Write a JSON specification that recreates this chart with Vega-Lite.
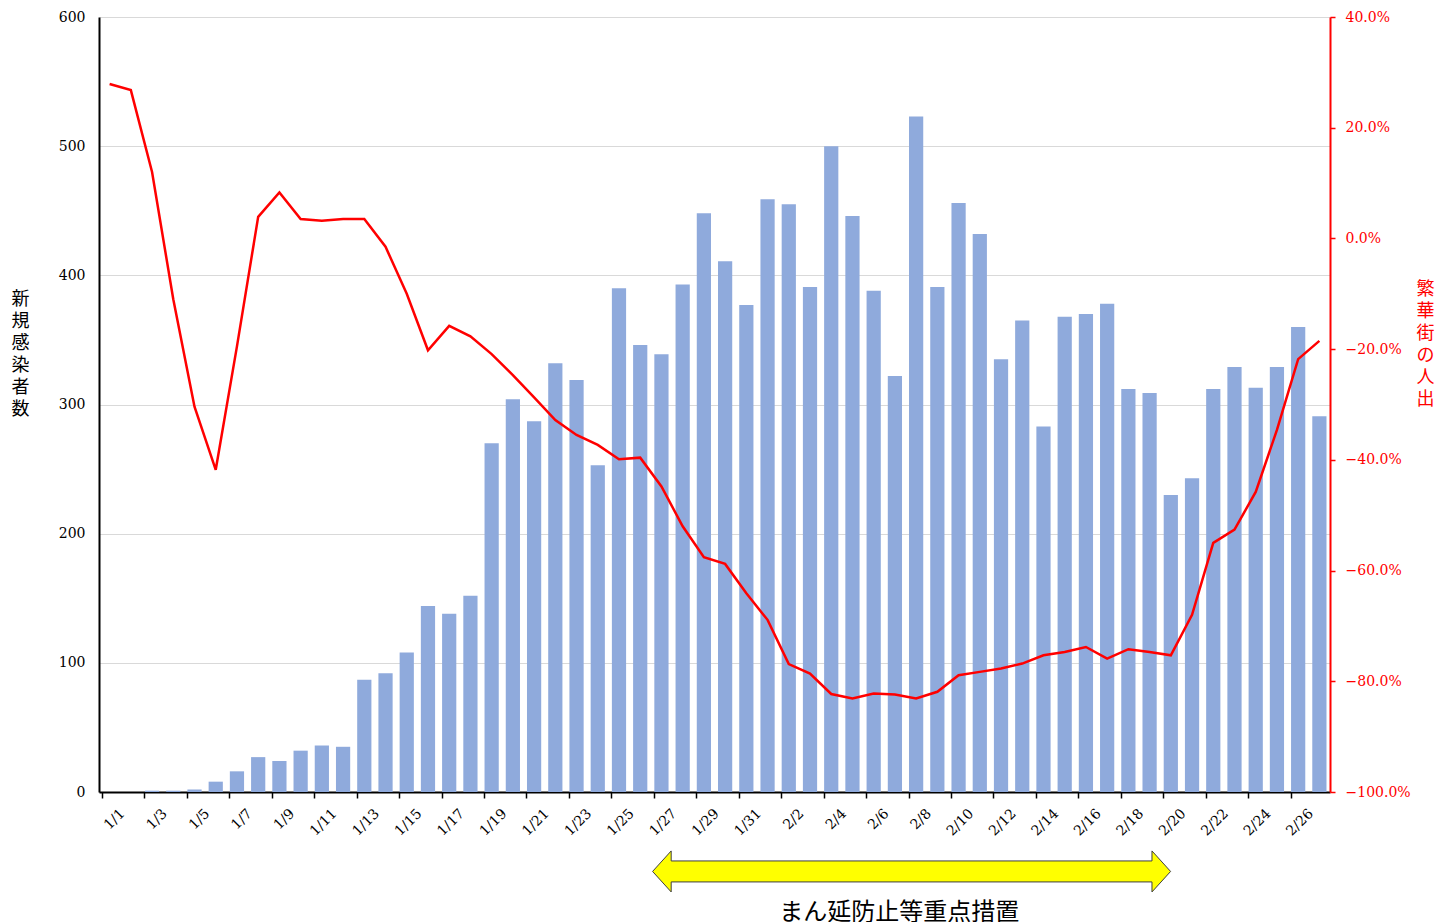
{
  "$schema": "https://vega.github.io/schema/vega-lite/v6.json",
  "width": 1231,
  "height": 775,
  "autosize": "none",
  "padding": {"left": 99, "top": 17, "right": 110, "bottom": 130},
  "background": "white",
  "config": {"view": {"stroke": null}},
  "data": {"values": [
    {"date":"1/1","cases":0,"people":0.279},
    {"date":"1/2","cases":0,"people":0.268},
    {"date":"1/3","cases":1,"people":0.120},
    {"date":"1/4","cases":1,"people":-0.110},
    {"date":"1/5","cases":2,"people":-0.304},
    {"date":"1/6","cases":8,"people":-0.418},
    {"date":"1/7","cases":16,"people":-0.195},
    {"date":"1/8","cases":27,"people":0.039},
    {"date":"1/9","cases":24,"people":0.083},
    {"date":"1/10","cases":32,"people":0.035},
    {"date":"1/11","cases":36,"people":0.032},
    {"date":"1/12","cases":35,"people":0.035},
    {"date":"1/13","cases":87,"people":0.035},
    {"date":"1/14","cases":92,"people":-0.015},
    {"date":"1/15","cases":108,"people":-0.100},
    {"date":"1/16","cases":144,"people":-0.202},
    {"date":"1/17","cases":138,"people":-0.158},
    {"date":"1/18","cases":152,"people":-0.177},
    {"date":"1/19","cases":270,"people":-0.209},
    {"date":"1/20","cases":304,"people":-0.247},
    {"date":"1/21","cases":287,"people":-0.287},
    {"date":"1/22","cases":332,"people":-0.328},
    {"date":"1/23","cases":319,"people":-0.355},
    {"date":"1/24","cases":253,"people":-0.373},
    {"date":"1/25","cases":390,"people":-0.399},
    {"date":"1/26","cases":346,"people":-0.396},
    {"date":"1/27","cases":339,"people":-0.448},
    {"date":"1/28","cases":393,"people":-0.520},
    {"date":"1/29","cases":448,"people":-0.576},
    {"date":"1/30","cases":411,"people":-0.588},
    {"date":"1/31","cases":377,"people":-0.641},
    {"date":"2/1","cases":459,"people":-0.689},
    {"date":"2/2","cases":455,"people":-0.769},
    {"date":"2/3","cases":391,"people":-0.786},
    {"date":"2/4","cases":500,"people":-0.823},
    {"date":"2/5","cases":446,"people":-0.831},
    {"date":"2/6","cases":388,"people":-0.822},
    {"date":"2/7","cases":322,"people":-0.824},
    {"date":"2/8","cases":523,"people":-0.831},
    {"date":"2/9","cases":391,"people":-0.819},
    {"date":"2/10","cases":456,"people":-0.789},
    {"date":"2/11","cases":432,"people":-0.783},
    {"date":"2/12","cases":335,"people":-0.777},
    {"date":"2/13","cases":365,"people":-0.768},
    {"date":"2/14","cases":283,"people":-0.753},
    {"date":"2/15","cases":368,"people":-0.747},
    {"date":"2/16","cases":370,"people":-0.738},
    {"date":"2/17","cases":378,"people":-0.759},
    {"date":"2/18","cases":312,"people":-0.742},
    {"date":"2/19","cases":309,"people":-0.747},
    {"date":"2/20","cases":230,"people":-0.753},
    {"date":"2/21","cases":243,"people":-0.680},
    {"date":"2/22","cases":312,"people":-0.550},
    {"date":"2/23","cases":329,"people":-0.526},
    {"date":"2/24","cases":313,"people":-0.458},
    {"date":"2/25","cases":329,"people":-0.346},
    {"date":"2/26","cases":360,"people":-0.218},
    {"date":"2/27","cases":291,"people":-0.185}
  ]},
  "layer": [
    {
      "layer": [
        {
          "mark": {"type": "bar", "color": "#8faadc"},
          "encoding": {
            "x": {
              "field": "date", "type": "ordinal",
              "scale": {
                "domain": ["1/1","1/2","1/3","1/4","1/5","1/6","1/7","1/8","1/9","1/10","1/11","1/12","1/13","1/14","1/15","1/16","1/17","1/18","1/19","1/20","1/21","1/22","1/23","1/24","1/25","1/26","1/27","1/28","1/29","1/30","1/31","2/1","2/2","2/3","2/4","2/5","2/6","2/7","2/8","2/9","2/10","2/11","2/12","2/13","2/14","2/15","2/16","2/17","2/18","2/19","2/20","2/21","2/22","2/23","2/24","2/25","2/26","2/27"],
                "paddingInner": 0.33, "paddingOuter": 0.165
              },
              "axis": {
                "title": null,
                "values": ["1/1","1/3","1/5","1/7","1/9","1/11","1/13","1/15","1/17","1/19","1/21","1/23","1/25","1/27","1/29","1/31","2/2","2/4","2/6","2/8","2/10","2/12","2/14","2/16","2/18","2/20","2/22","2/24","2/26"],
                "bandPosition": 0,
                "labelAngle": -45,
                "labelAlign": "right",
                "labelBaseline": "middle",
                "labelOffset": 13,
                "labelPadding": 13,
                "labelFont": "DejaVu Serif",
                "labelFontSize": 14,
                "labelColor": "#000000",
                "domainColor": "#000000",
                "domainWidth": 2,
                "tickColor": "#000000",
                "tickSize": 6,
                "tickWidth": 1.5,
                "grid": false
              }
            },
            "y": {
              "field": "cases", "type": "quantitative",
              "scale": {"domain": [0, 600], "nice": false},
              "axis": {
                "values": [0, 100, 200, 300, 400, 500, 600],
                "title": ["新", "規", "感", "染", "者", "数"],
                "titleAngle": 0,
                "titleX": -79,
                "titleY": 282,
                "titleAlign": "center",
                "titleBaseline": "middle",
                "titleFont": "Noto Sans CJK JP",
                "titleFontSize": 18,
                "titleFontWeight": "normal",
                "titleLineHeight": 22,
                "titleColor": "#000000",
                "labelFont": "DejaVu Serif",
                "labelFontSize": 14,
                "labelColor": "#000000",
                "labelPadding": 14,
                "ticks": false,
                "domainColor": "#000000",
                "domainWidth": 2,
                "grid": true,
                "gridColor": "#d9d9d9",
                "gridWidth": 1
              }
            }
          }
        },
        {
          "data": {"values": [{"date": "2/8", "pos": -61.5}]},
          "mark": {
            "type": "point",
            "shape": "M -1 0 L -0.9282 -0.0792 L -0.9282 -0.0405 L 0.9282 -0.0405 L 0.9282 -0.0792 L 1 0 L 0.9282 0.0792 L 0.9282 0.0405 L -0.9282 0.0405 L -0.9282 0.0792 Z",
            "size": 268324,
            "filled": true,
            "fill": "#ffff00",
            "stroke": "#3f3f3f",
            "strokeWidth": 1,
            "opacity": 1,
            "fillOpacity": 1,
            "strokeOpacity": 1
          },
          "encoding": {
            "x": {"field": "date", "type": "ordinal", "bandPosition": 0.18},
            "y": {"field": "pos", "type": "quantitative"}
          }
        },
        {
          "data": {"values": [{"date": "2/7", "pos": -94, "label": "まん延防止等重点措置"}]},
          "mark": {
            "type": "text",
            "font": "Noto Sans CJK JP",
            "fontSize": 24,
            "color": "#000000",
            "align": "center",
            "baseline": "middle"
          },
          "encoding": {
            "x": {"field": "date", "type": "ordinal", "bandPosition": 0.8},
            "y": {"field": "pos", "type": "quantitative"},
            "text": {"field": "label"}
          }
        }
      ]
    },
    {
      "mark": {"type": "line", "color": "#ff0000", "strokeWidth": 2.5},
      "encoding": {
        "x": {"field": "date", "type": "ordinal"},
        "y": {
          "field": "people", "type": "quantitative",
          "scale": {"domain": [-1, 0.4], "nice": false, "zero": false},
          "axis": {
            "orient": "right",
            "values": [-1, -0.8, -0.6, -0.4, -0.2, 0, 0.2, 0.4],
            "format": ".1%",
            "title": ["繁", "華", "街", "の", "人", "出"],
            "titleAngle": 0,
            "titleX": 95,
            "titleY": 272,
            "titleAlign": "center",
            "titleBaseline": "middle",
            "titleFont": "Noto Sans CJK JP",
            "titleFontSize": 18,
            "titleFontWeight": "normal",
            "titleLineHeight": 22,
            "titleColor": "#ff0000",
            "labelFont": "DejaVu Serif",
            "labelFontSize": 14,
            "labelColor": "#ff0000",
            "labelPadding": 10,
            "domainColor": "#ff0000",
            "domainWidth": 2,
            "tickColor": "#ff0000",
            "tickSize": 5,
            "tickWidth": 1.5,
            "grid": false
          }
        }
      }
    }
  ],
  "resolve": {"scale": {"y": "independent"}, "axis": {"y": "independent"}}
}
